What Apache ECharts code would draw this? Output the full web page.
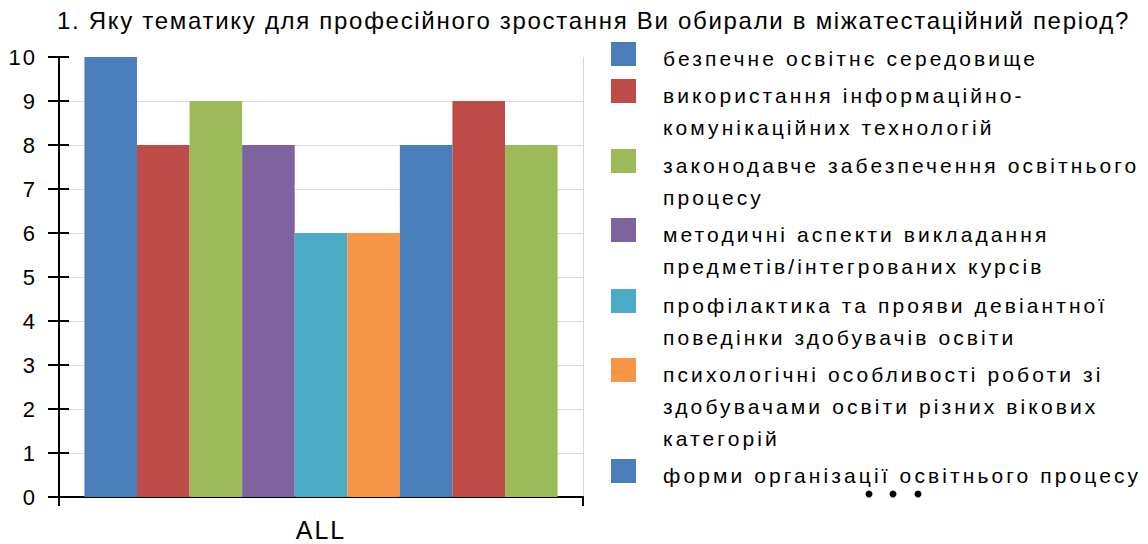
<!DOCTYPE html>
<html><head><meta charset="utf-8">
<script src="https://cdn.jsdelivr.net/npm/echarts@6/dist/echarts.min.js"></script>
<style>
html,body{margin:0;padding:0;background:#fff}
#c{width:1148px;height:544px}
#c text{letter-spacing:2px}
#c text[style*="21px"]{letter-spacing:3.1px}
#c text[style*="24px"]{letter-spacing:1.7px}
</style></head><body><div id="c"></div>
<script>
const titleText = '1. Яку тематику для професійного зростання Ви обирали в міжатестаційний період?';
const categories = ['ALL'];
const seriesNames = [
  'безпечне освітнє середовище',
  'використання інформаційно-комунікаційних технологій',
  'законодавче забезпечення освітнього процесу',
  'методичні аспекти викладання предметів/інтегрованих курсів',
  'профілактика та прояви девіантної поведінки здобувачів освіти',
  'психологічні особливості роботи зі здобувачами освіти різних вікових категорій',
  'форми організації освітнього процесу',
  'тема 8',
  'тема 9'
];
const legendLines = [
  ['безпечне освітнє середовище'],
  ['використання інформаційно-', 'комунікаційних технологій'],
  ['законодавче забезпечення освітнього', 'процесу'],
  ['методичні аспекти викладання', 'предметів/інтегрованих курсів'],
  ['профілактика та прояви девіантної', 'поведінки здобувачів освіти'],
  ['психологічні особливості роботи зі', 'здобувачами освіти різних вікових', 'категорій'],
  ['форми організації освітнього процесу']
];
const values = [10, 8, 9, 8, 6, 6, 8, 9, 8];
const yMin = 0, yMax = 10, yStep = 1;

const palette = ['#4A7EBB', '#BE4B48', '#9BBB59', '#7F63A1', '#4BAAC5', '#F79646', '#4A7EBB', '#BE4B48', '#9BBB59'];
const legendTops = [42, 79, 149, 218, 289, 358, 459];
const LH = 32;
const FONT = 'Liberation Sans';

const chart = echarts.init(document.getElementById('c'), null, {renderer: 'svg'});
const series = seriesNames.map((n, i) => ({
  name: n, type: 'bar', data: [values[i]],
  itemStyle: {color: palette[i]},
  barGap: '0%', barCategoryGap: '9.7%'
}));
const legends = legendLines.map((lines, i) => {
  const H = 33.4 + (lines.length - 1) * LH;
  return {
    orient: 'vertical', left: 611, top: legendTops[i], padding: 0,
    itemWidth: 25, itemHeight: H, selectedMode: false,
    icon: 'path://M0,0L25,0L25,24L0,24Z M0,' + H + 'L25,' + H,
    data: [seriesNames[i]],
    formatter: () => lines.join('\n'),
    textStyle: {fontFamily: FONT, fontSize: 21, color: '#000', lineHeight: LH,
      padding: [0, 0, 0, 22]}
  };
});
chart.setOption({
  animation: false,
  title: {text: titleText, left: 57, top: 8, padding: 0,
    textStyle: {fontFamily: FONT, fontSize: 24, fontWeight: 'normal', color: '#000'}},
  legend: legends,
  grid: {left: 59, right: 565, top: 57, bottom: 47, containLabel: false},
  xAxis: {type: 'category', data: categories,
    axisLine: {lineStyle: {color: '#000', width: 2}},
    axisTick: {show: true, length: 9, lineStyle: {color: '#000', width: 2}},
    axisLabel: {fontFamily: FONT, fontSize: 25, color: '#000', margin: 20},
    splitLine: {show: true, lineStyle: {color: '#d9d9d9', width: 1}}},
  yAxis: [
    {type: 'value', min: yMin, max: yMax, interval: yStep,
      axisLine: {show: true, lineStyle: {color: '#000', width: 2}},
      axisTick: {show: true, length: 11, lineStyle: {color: '#000', width: 2}},
      axisLabel: {fontFamily: FONT, fontSize: 22, color: '#000', margin: 22},
      splitLine: {show: true, showMaxLine: false, lineStyle: {color: '#d9d9d9', width: 1}}},
    {type: 'value', min: yMin, max: yMax, interval: yStep, position: 'left',
      axisLine: {show: false},
      axisTick: {show: true, inside: true, length: 10, lineStyle: {color: '#000', width: 2}},
      axisLabel: {show: false}, splitLine: {show: false}}
  ],
  graphic: [
    {type: 'circle', shape: {cx: 869, cy: 494, r: 3.5}, style: {fill: '#000'}},
    {type: 'circle', shape: {cx: 893, cy: 494, r: 3.5}, style: {fill: '#000'}},
    {type: 'circle', shape: {cx: 918, cy: 494, r: 3.5}, style: {fill: '#000'}}
  ],
  series: series
});
</script></body></html>
